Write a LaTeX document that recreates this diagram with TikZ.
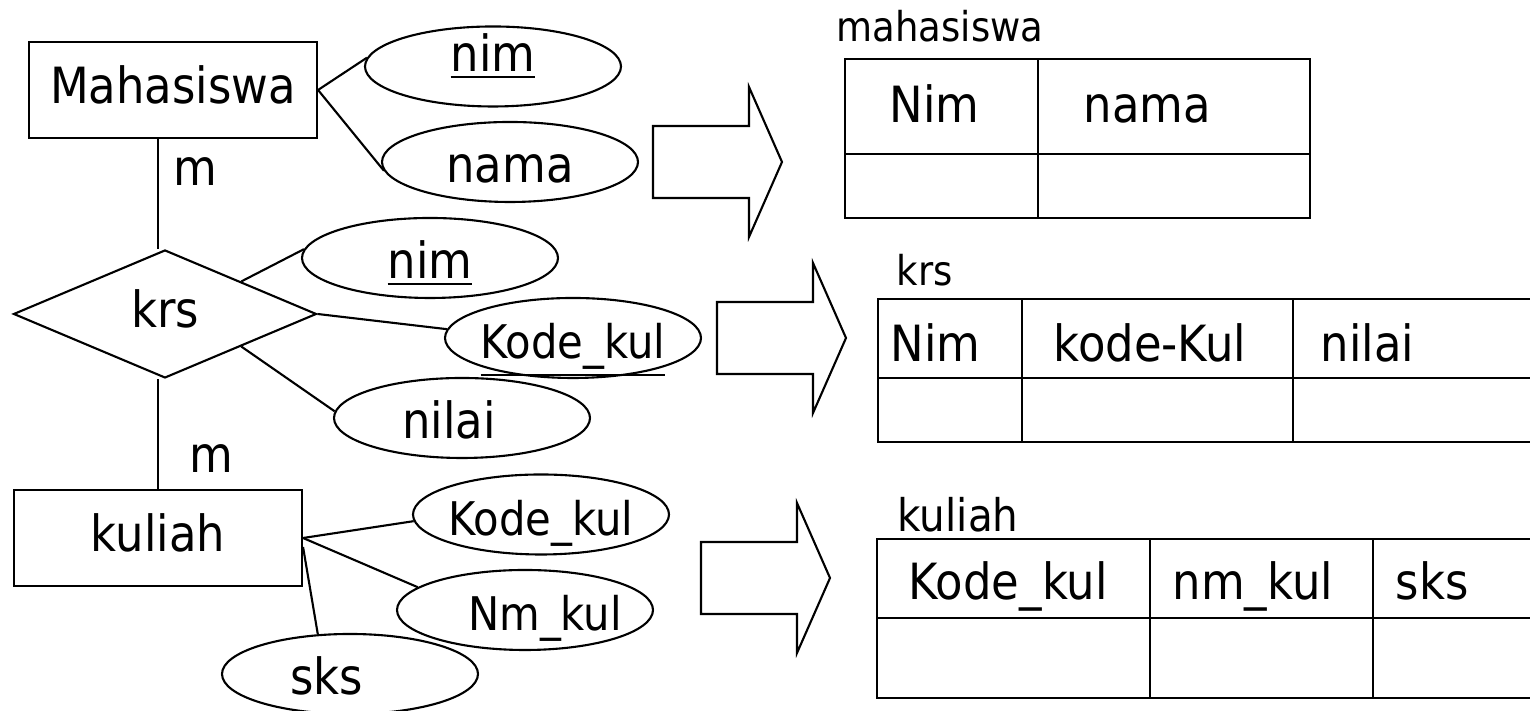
\documentclass[tikz,border=0pt]{standalone}
\usepackage{fontspec}
\setmainfont{DejaVu Sans}[FakeStretch=0.9]
\usetikzlibrary{
    positioning,
    calc,
    shapes.geometric
}
\tikzset{
    % --- Entity (rectangle) ---
    entity/.style = {
        rectangle, draw, line width=0.6pt,
        minimum width=2.88cm, minimum height=0.96cm,
        inner sep=0pt, text height=0.27cm, text depth=0pt,
        font=\fontsize{14.2}{17}\selectfont
    },
    % --- Relationship (diamond) ---
    relation/.style = {
        diamond, draw, line width=0.6pt,
        minimum width=3.03cm, minimum height=1.28cm,
        inner sep=0pt, text height=0.28cm, text depth=0pt,
        font=\fontsize{14.2}{17}\selectfont
    },
    % --- Attribute (ellipse) ---
    attribute/.style = {
        ellipse, draw, line width=0.6pt,
        minimum width=2.56cm, minimum height=0.80cm,
        inner xsep=-3pt, inner ysep=0pt,
        text height=0.42cm, text depth=0pt,
        font=\fontsize{14.2}{17}\selectfont
    },
    % --- Smaller attribute text ---
    small attr/.style = {
        font=\fontsize{13.2}{16}\selectfont
    },
    % --- ER connector ---
    link/.style = {
        line width=0.6pt
    },
    % --- Cardinality label ---
    card/.style = {
        inner sep=0pt, font=\fontsize{14.2}{17}\selectfont
    },
    % --- Table cell ---
    cell/.style = {
        rectangle, draw, line width=0.7pt,
        inner sep=0pt, outer sep=0pt
    },
    % --- Column name ---
    colname/.style = {
        inner sep=0pt, anchor=base west,
        font=\fontsize{14.2}{17}\selectfont
    },
    % --- Table name ---
    tabname/.style = {
        inner sep=0pt, anchor=base west,
        font=\fontsize{11.7}{14}\selectfont
    },
    % --- Block arrow (ER -> table) ---
    map arrow/.pic = {
        \draw[line width=0.6pt] (0,0.36) -- (0.96,0.36) -- (0.96,0.75) -- (1.29,0)
            -- (0.96,-0.75) -- (0.96,-0.36) -- (0,-0.36) -- cycle;
    }
}

\begin{document}
\begin{tikzpicture}[node distance=0pt]

\useasboundingbox (0,0) rectangle (15.30,7.11);
\clip (0,0) rectangle (15.30,7.11);

% ---------------------------------------------------------
% ER diagram: entities and relationship
% ---------------------------------------------------------
\node[entity] (Mhs) at (1.73,6.21) {Mahasiswa};
\node[relation] (Krs) at (1.65,3.97) {krs};
\node[entity] (Kul) at (1.58,1.73) {kuliah};

% ---------------------------------------------------------
% Attributes
% ---------------------------------------------------------
\node[attribute, text height=0.11cm] (NimA) at (4.93,6.445) {\underline{nim}};
\node[attribute] (Nama) at (5.10,5.49) {nama};
\node[attribute] (NimB) at (4.30,4.53) {\underline{nim}};
\node[attribute, small attr] (KodeA) at (5.73,3.73) {\underline{Kode\_kul}};
\node[attribute] (Nilai) at (4.62,2.93) {nilai\hspace*{0.26cm}};
\node[attribute, small attr] (KodeB) at (5.41,1.965) {Kode\_kul};
\node[attribute, small attr] (NmKul) at (5.25,1.01) {\hspace*{0.40cm}Nm\_kul};
\node[attribute] (Sks) at (3.50,0.37) {sks\hspace*{0.47cm}};

% ---------------------------------------------------------
% Connectors
% ---------------------------------------------------------
\draw[link] (Mhs.east) -- (NimA.176);
\draw[link] (Mhs.east) -- (Nama.184);
\draw[link] (Mhs.south -| Kul.north) -- (Krs.north -| Kul.north)
    node[card, pos=0.42, anchor=base west, xshift=0.14cm] (CardM) {m};
\draw[link] (Krs.south -| Kul.north) -- (Kul.north)
    node[card, pos=0.85, anchor=base west, xshift=0.30cm] (CardK) {m};

\draw[link] ($(Krs.north)!0.5!(Krs.east)$) -- (NimB.176);
\draw[link] (Krs.east) -- (KodeA.176);
\draw[link] ($(Krs.south)!0.5!(Krs.east)$) -- (Nilai.177);

\draw[link] (Kul.east) -- (KodeB.183);
\draw[link] (Kul.east) -- (NmKul.168);
\draw[link] ($(Kul.east)+(0,-0.09)$) -- (Sks.129);

% ---------------------------------------------------------
% Mapping arrows
% ---------------------------------------------------------
\pic (ArrMhs) at (6.53,5.49) {map arrow};
\pic (ArrKrs) at (7.17,3.73) {map arrow};
\pic (ArrKul) at (7.01,1.33) {map arrow};

% ---------------------------------------------------------
% Table mahasiswa
% ---------------------------------------------------------
\node[tabname] (tMhs) at (8.36,6.69) {mahasiswa};
\node[cell, anchor=north west, minimum width=1.93cm, minimum height=0.95cm] (TM11) at (8.45,6.52) {};
\node[cell, right=of TM11, minimum width=2.72cm, minimum height=0.95cm] (TM12) {};
\node[cell, below=of TM11, minimum width=1.93cm, minimum height=0.64cm] (TM21) {};
\node[cell, below=of TM12, minimum width=2.72cm, minimum height=0.64cm] (TM22) {};
\node[colname] (cNimM) at (8.89,5.88) {Nim};
\node[colname] (cNamaM) at (10.83,5.88) {nama};

% ---------------------------------------------------------
% Table krs
% ---------------------------------------------------------
\node[tabname] (tKrs) at (8.96,4.25) {krs};
\node[cell, anchor=north west, minimum width=1.44cm, minimum height=0.79cm] (TK11) at (8.78,4.12) {};
\node[cell, right=of TK11, minimum width=2.71cm, minimum height=0.79cm] (TK12) {};
\node[cell, right=of TK12, minimum width=2.60cm, minimum height=0.79cm] (TK13) {};
\node[cell, below=of TK11, minimum width=1.44cm, minimum height=0.64cm] (TK21) {};
\node[cell, below=of TK12, minimum width=2.71cm, minimum height=0.64cm] (TK22) {};
\node[cell, below=of TK13, minimum width=2.60cm, minimum height=0.64cm] (TK23) {};
\node[colname] (cNimK) at (8.90,3.49) {Nim};
\node[colname] (cKodeK) at (10.53,3.49) {kode-Kul};
\node[colname] (cNilaiK) at (13.20,3.49) {nilai};

% ---------------------------------------------------------
% Table kuliah
% ---------------------------------------------------------
\node[tabname, font=\fontsize{12.8}{15}\selectfont] (tKul) at (8.97,1.79) {kuliah};
\node[cell, anchor=north west, minimum width=2.73cm, minimum height=0.79cm] (TL11) at (8.77,1.72) {};
\node[cell, right=of TL11, minimum width=2.23cm, minimum height=0.79cm] (TL12) {};
\node[cell, right=of TL12, minimum width=2.60cm, minimum height=0.79cm] (TL13) {};
\node[cell, below=of TL11, minimum width=2.73cm, minimum height=0.80cm] (TL21) {};
\node[cell, below=of TL12, minimum width=2.23cm, minimum height=0.80cm] (TL22) {};
\node[cell, below=of TL13, minimum width=2.60cm, minimum height=0.80cm] (TL23) {};
\node[colname] (cKodeL) at (9.08,1.11) {Kode\_kul};
\node[colname] (cNmL) at (11.72,1.11) {nm\_kul};
\node[colname] (cSksL) at (13.95,1.11) {sks};

\end{tikzpicture}
\end{document}
